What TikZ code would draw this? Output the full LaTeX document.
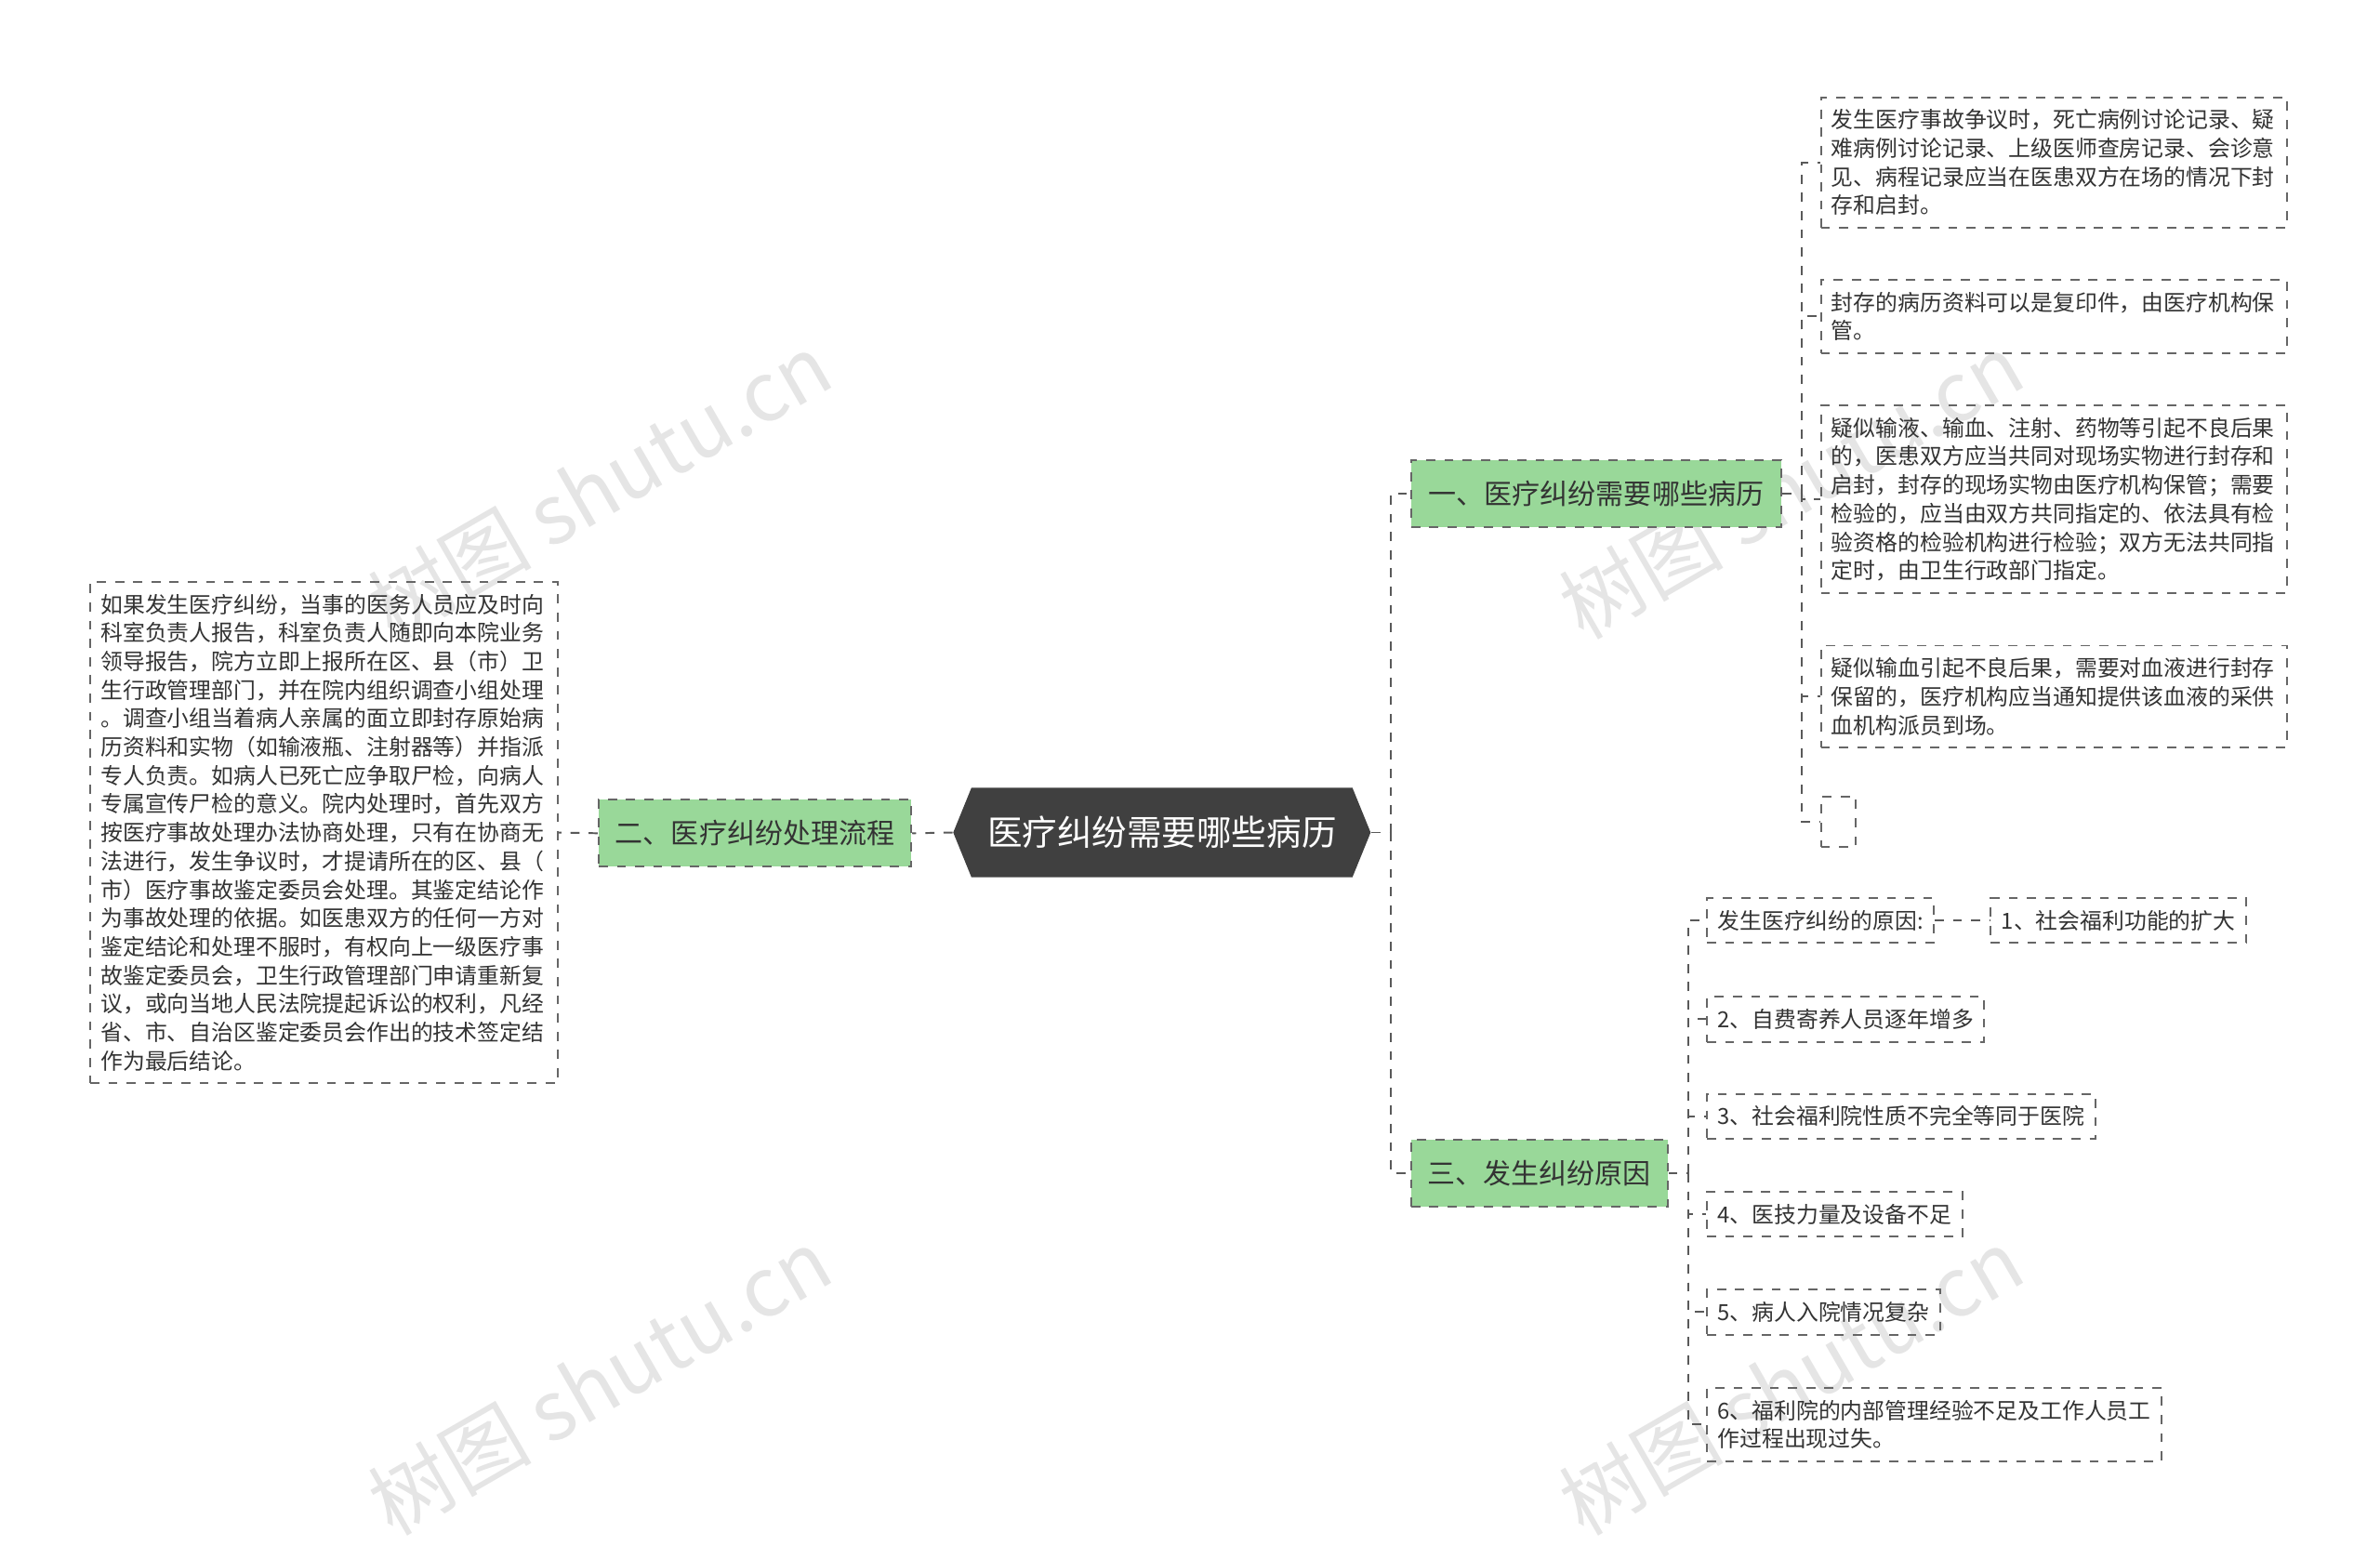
\documentclass[tikz,border=0pt]{standalone}
\usepackage{fontspec}
\setmainfont{Noto Sans CJK SC}
\begin{document}
\begin{tikzpicture}[x=0.5pt,y=-0.5pt,
  line/.style={draw=black!65,dashed,line width=0.6pt},
  leaf/.style={draw=black!60,dashed,line width=0.6pt,anchor=west,align=left,inner xsep=3.5pt,inner ysep=4pt,font=\fontsize{7.3}{9.4}\selectfont,text=black!80},
  branch/.style={draw=black!60,dashed,fill=green!45!gray!55!white,line width=0.6pt,anchor=west,inner xsep=4pt,minimum height=22pt,font=\fontsize{9.2}{10}\selectfont,text=black!80},
  wm/.style={text=black!10,font=\fontsize{27}{30}\selectfont,rotate=30}]
\useasboundingbox (0,0) rectangle (1568,1027);
% watermarks
\node[wm] at (395,320) {树图 shutu.cn};
\node[wm] at (395,910) {树图 shutu.cn};
\node[wm] at (1180,320) {树图 shutu.cn};
\node[wm] at (1180,910) {树图 shutu.cn};
% center
\fill[black!75] (628,548.5) -- (640,519) -- (891,519) -- (903,548.5) -- (891,578) -- (640,578) -- cycle;
\node[font=\fontsize{11.5}{13}\selectfont,text=white,minimum width=275*0.5pt,minimum height=59*0.5pt,inner sep=0pt] (c) at (765.5,548.5) {医疗纠纷需要哪些病历};
% branches
\node[branch,minimum width=244*0.5pt] (b1) at (929,325) {一、医疗纠纷需要哪些病历};
\node[branch,minimum width=206*0.5pt,anchor=east] (b2) at (601,549) {二、医疗纠纷处理流程};
\node[branch,minimum width=169*0.5pt] (b3) at (929,773) {三、发生纠纷原因};
% left leaf
\node[leaf,anchor=east,text width=147pt] (l) at (368,548.5) {如果发生医疗纠纷，当事的医务人员应及时向\\科室负责人报告，科室负责人随即向本院业务\\领导报告，院方立即上报所在区、县（市）卫\\生行政管理部门，并在院内组织调查小组处理\\。调查小组当着病人亲属的面立即封存原始病\\历资料和实物（如输液瓶、注射器等）并指派\\专人负责。如病人已死亡应争取尸检，向病人\\专属宣传尸检的意义。院内处理时，首先双方\\按医疗事故处理办法协商处理，只有在协商无\\法进行，发生争议时，才提请所在的区、县（\\市）医疗事故鉴定委员会处理。其鉴定结论作\\为事故处理的依据。如医患双方的任何一方对\\鉴定结论和处理不服时，有权向上一级医疗事\\故鉴定委员会，卫生行政管理部门申请重新复\\议，或向当地人民法院提起诉讼的权利，凡经\\省、市、自治区鉴定委员会作出的技术签定结\\作为最后结论。};
% b1 leaves
\node[leaf,text width=146.5pt] (a1) at (1199,107) {发生医疗事故争议时，死亡病例讨论记录、疑\\难病例讨论记录、上级医师查房记录、会诊意\\见、病程记录应当在医患双方在场的情况下封\\存和启封。};
\node[leaf,text width=146.5pt] (a2) at (1199,208.5) {封存的病历资料可以是复印件，由医疗机构保\\管。};
\node[leaf,text width=146.5pt] (a3) at (1199,329) {疑似输液、输血、注射、药物等引起不良后果\\的，医患双方应当共同对现场实物进行封存和\\启封，封存的现场实物由医疗机构保管；需要\\检验的，应当由双方共同指定的、依法具有检\\验资格的检验机构进行检验；双方无法共同指\\定时，由卫生行政部门指定。};
\node[leaf,text width=146.5pt] (a4) at (1199,459) {疑似输血引起不良后果，需要对血液进行封存\\保留的，医疗机构应当通知提供该血液的采供\\血机构派员到场。};
\node[draw=black!60,dashed,line width=0.6pt,minimum width=11.5pt,minimum height=16.5pt,anchor=west,inner sep=0pt] (a5) at (1199,541.5) {};
% b3 leaves
\node[leaf] (r0) at (1124,606.5) {发生医疗纠纷的原因:};
\node[leaf] (r1) at (1311,606.5) {1、社会福利功能的扩大};
\node[leaf] (r2) at (1124,671.5) {2、自费寄养人员逐年增多};
\node[leaf] (r3) at (1124,735.5) {3、社会福利院性质不完全等同于医院};
\node[leaf] (r4) at (1124,800) {4、医技力量及设备不足};
\node[leaf] (r5) at (1124,864.5) {5、病人入院情况复杂};
\node[leaf] (r6) at (1124,938.5) {6、福利院的内部管理经验不足及工作人员工\\作过程出现过失。};
% connectors
\draw[line] (c.east) -- ++(13,0) coordinate (j0);
\draw[line] (j0) |- (b1.west);
\draw[line] (j0) |- (b3.west);
\draw[line] (c.west) -- (b2.east);
\draw[line] (b2.west) -- (l.east);
\draw[line] (b1.east) -- ++(13,0) coordinate (j1);
\foreach \n in {a1,a2,a3,a4,a5} \draw[line] (j1) |- (\n.west);
\draw[line] (b3.east) -- ++(13,0) coordinate (j3);
\foreach \n in {r0,r2,r3,r4,r5,r6} \draw[line] (j3) |- (\n.west);
\draw[line] (r0.east) -- (r1.west);
\end{tikzpicture}
\end{document}
